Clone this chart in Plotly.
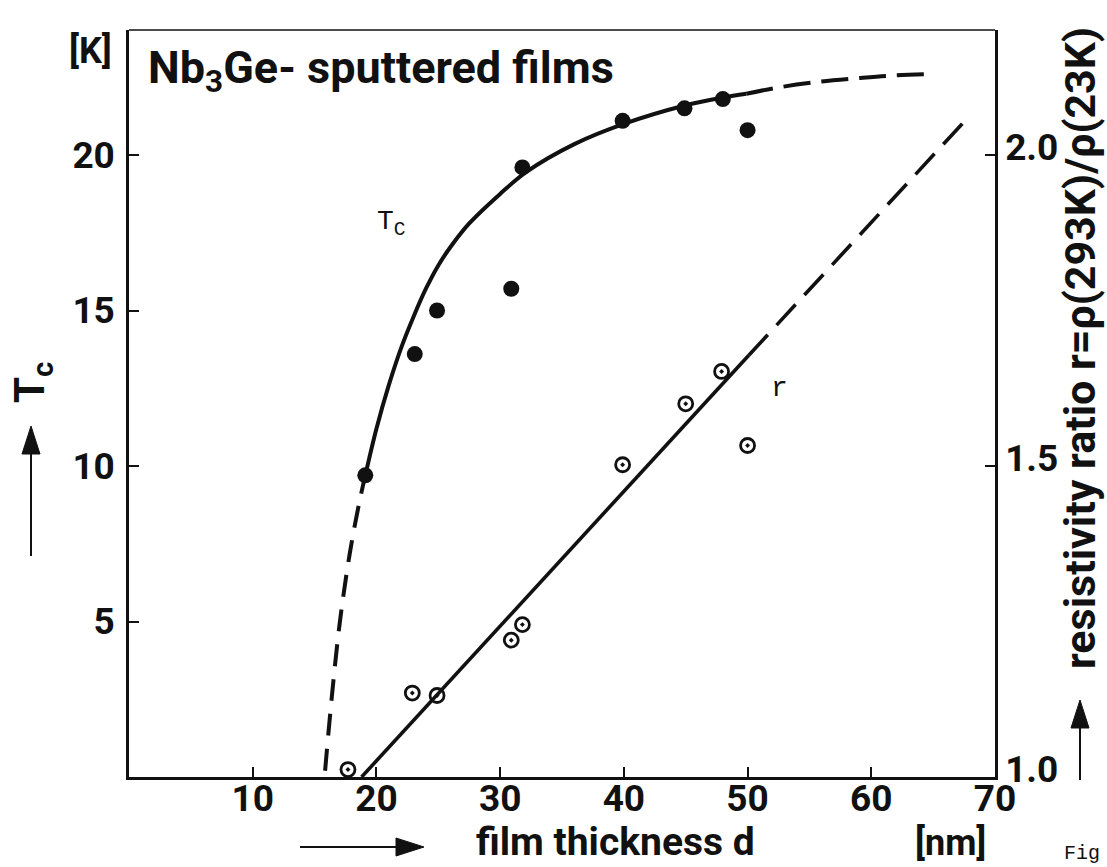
import math
import plotly.graph_objects as go

# ---- measured data -------------------------------------------------------
# film thickness d [nm] and transition temperature Tc [K] (filled circles)
d_tc = [19.1, 23.1, 24.9, 30.9, 31.8, 39.9, 44.9, 48.0, 50.0]
tc_vals = [9.7, 13.6, 15.0, 15.7, 19.6, 21.1, 21.5, 21.8, 20.8]

# film thickness d [nm] and resistivity ratio r (open circles)
d_r = [17.7, 22.9, 24.9, 30.9, 31.8, 39.9, 45.0, 47.9, 50.0]
r_vals = [1.012, 1.135, 1.131, 1.220, 1.245, 1.502, 1.600, 1.652, 1.533]

# hand-drawn Tc guide curve: lower dashed part, solid part, upper dashed part
tc_low_d = [15.85, 16.4, 17.05, 17.85, 18.6, 19.1]
tc_low_t = [0.2, 2.6, 5.0, 7.2, 8.8, 9.7]
tc_mid_d = [19.1, 20.0, 21.0, 22.0, 23.0, 24.0, 25.0, 26.0, 27.5, 30.0, 32.1,
            36.0, 40.0, 45.0, 48.0, 49.9]
tc_mid_t = [9.7, 11.2, 12.6, 13.8, 14.8, 15.7, 16.45, 17.05, 17.8, 18.75, 19.45,
            20.35, 21.0, 21.6, 21.85, 21.97]
tc_high_d = [49.9, 52.6, 55.9, 58.9, 61.8, 65.0]
tc_high_t = [21.97, 22.18, 22.36, 22.47, 22.56, 22.61]

# straight guide line for r: solid part and dashed extrapolation
r_line_d = [18.8, 50.1]
r_line_v = [1.0, 1.678]
r_ext_d = [50.1, 67.8]
r_ext_v = [1.678, 2.06]

# axis ticks
x_ticks = [10, 20, 30, 40, 50, 60, 70]
tc_ticks = [5, 10, 15, 20]
r_ticks = [1.0, 1.5, 2.0]
r_tick_text = ["1.0", "1.5", "2.0"]

# ---- geometry -------------------------------------------------------------
W, H = 1107, 867
ML, MR, MT, MB = 129, 112, 30, 90
PW, PH = W - ML - MR, H - MT - MB
TC_MAX = 24.02
R_MIN, R_MAX = 1.0, 1.0 + TC_MAX / 20.0

FONT = "Roboto, DejaVu Sans Condensed, sans-serif"
MONO = "Liberation Mono, Courier New, monospace"
INK = "#111111"


def px(x):
    return (x - ML) / PW


def py(y):
    return (H - MB - y) / PH


fig = go.Figure()

# Tc guide curve
fig.add_trace(go.Scatter(x=tc_low_d, y=tc_low_t, mode="lines",
                         line=dict(color=INK, width=4, dash="22px,13px", shape="spline"),
                         hoverinfo="skip"))
fig.add_trace(go.Scatter(x=tc_mid_d, y=tc_mid_t, mode="lines",
                         line=dict(color=INK, width=4, shape="spline", smoothing=1.0),
                         hoverinfo="skip"))
fig.add_trace(go.Scatter(x=tc_high_d, y=tc_high_t, mode="lines",
                         line=dict(color=INK, width=4, dash="27px,11px", shape="spline"),
                         hoverinfo="skip"))

# r guide line
fig.add_trace(go.Scatter(x=r_line_d, y=r_line_v, yaxis="y2", mode="lines",
                         line=dict(color=INK, width=3.6), hoverinfo="skip"))
fig.add_trace(go.Scatter(x=r_ext_d, y=r_ext_v, yaxis="y2", mode="lines",
                         line=dict(color=INK, width=3.6, dash="28px,13px"),
                         hoverinfo="skip"))

# data points
fig.add_trace(go.Scatter(x=d_tc, y=tc_vals, mode="markers",
                         marker=dict(symbol="circle", size=16, color=INK,
                                     line=dict(width=0))))
fig.add_trace(go.Scatter(x=d_r, y=r_vals, yaxis="y2", mode="markers",
                         marker=dict(symbol="circle-open-dot", size=14, color=INK,
                                     line=dict(width=2.8, color=INK))))

axis_common = dict(showgrid=False, zeroline=False, showline=True, linecolor=INK,
                   linewidth=2.5, ticks="inside", ticklen=10, tickwidth=2,
                   tickcolor=INK,
                   tickfont=dict(family=FONT, size=37, color=INK, weight="bold"))

fig.update_layout(
    width=W, height=H, showlegend=False,
    margin=dict(l=ML, r=MR, t=MT, b=MB, pad=0),
    paper_bgcolor="white", plot_bgcolor="white",
    xaxis=dict(range=[0, 70], tickvals=x_ticks, ticklabelstandoff=-13, **axis_common),
    yaxis=dict(range=[0, TC_MAX], tickvals=tc_ticks, ticklabelstandoff=4,
               **axis_common),
    yaxis2=dict(range=[R_MIN, R_MAX], overlaying="y", side="right",
                tickvals=r_ticks, ticktext=r_tick_text, ticklabelstandoff=0,
                ticklabelshift=-8, **axis_common),
)

# top frame line
fig.add_shape(type="line", xref="paper", yref="paper", x0=0, x1=1, y0=1, y1=1,
              line=dict(color=INK, width=1.5))


def arrow(x0, y0, x1, y1, head=28, half=9, width=2):
    """Line from (x0, y0) to the tip (x1, y1) with a filled head, pixel coords."""
    dx, dy = x1 - x0, y1 - y0
    n = math.hypot(dx, dy)
    ux, uy = dx / n, dy / n
    bx, by = x1 - ux * head, y1 - uy * head
    fig.add_shape(type="line", xref="paper", yref="paper",
                  x0=px(x0), y0=py(y0), x1=px(bx), y1=py(by),
                  line=dict(color=INK, width=width))
    p1 = (bx - uy * half, by + ux * half)
    p2 = (bx + uy * half, by - ux * half)
    path = "M {} {} L {} {} L {} {} Z".format(px(x1), py(y1), px(p1[0]), py(p1[1]),
                                              px(p2[0]), py(p2[1]))
    fig.add_shape(type="path", xref="paper", yref="paper", path=path,
                  fillcolor=INK, line=dict(color=INK, width=1))


arrow(31, 556, 31, 426)          # Tc axis arrow
arrow(1080, 780, 1080, 700)      # r axis arrow
arrow(300, 847, 424, 847)        # d axis arrow


def label(text, x, y, size, family=FONT, angle=0, xanchor="center", weight="bold"):
    fig.add_annotation(text=text, xref="paper", yref="paper", x=px(x), y=py(y),
                       xanchor=xanchor, yanchor="middle", showarrow=False,
                       textangle=angle,
                       font=dict(family=family, size=size, color=INK, weight=weight))


label("[K]", 90, 51, 36)
label("Nb<sub>3</sub>Ge- sputtered films", 146, 70, 45, xanchor="left")
label("T<sub>c</sub>", 32, 383, 42, angle=-90)
label("film thickness d", 757, 842, 39, xanchor="right")
label("[nm]", 950, 843, 36)
label("resistivity ratio r=ρ(293K)/ρ(23K)", 1080, 348, 43, angle=-90)
label("Fig", 1062, 853, 20, family=MONO, xanchor="left", weight="normal")

# curve labels inside the plot
fig.add_annotation(text="T<sub>C</sub>", x=21.2, y=17.8, showarrow=False,
                   font=dict(family=MONO, size=28, color=INK))
fig.add_annotation(text="r", x=52.6, y=12.5, showarrow=False,
                   font=dict(family=MONO, size=28, color=INK))

fig.write_html("out.html")
